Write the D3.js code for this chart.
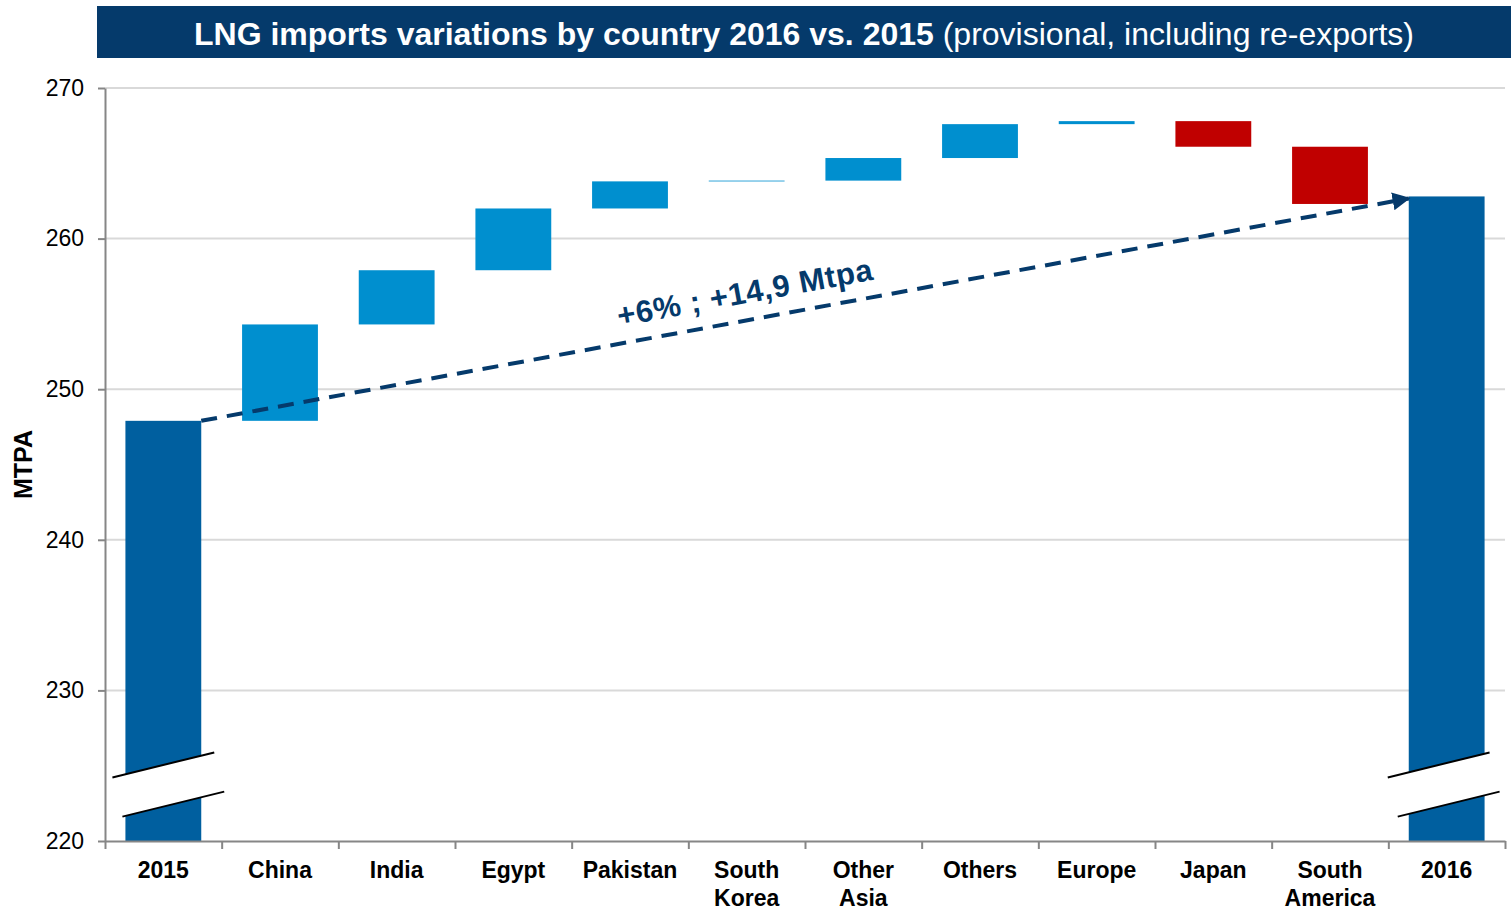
<!DOCTYPE html>
<html>
<head>
  <meta charset="utf-8">
  <title>LNG imports</title>
  <script type="text/javascript" src="https://cdn.jsdelivr.net/npm/d3@7"></script>
  <style>
    body { margin: 0; background: #fff; font-family: "Liberation Sans", Arial, sans-serif; }
    .axis path, .axis line { stroke: #868686; stroke-width: 2; }
    .axis text { font-size: 23px; fill: #000; font-family: "Liberation Sans", Arial, sans-serif; }
    .grid line { stroke: #d9d9d9; stroke-width: 2; }
    .xlab { font-size: 23px; font-weight: bold; fill: #000; }
  </style>
</head>
<body>
<script>

  // categories and values (Mtpa)
  var categories = ["2015", "China", "India", "Egypt", "Pakistan", "South Korea", "Other Asia",
                    "Others", "Europe", "Japan", "South America", "2016"];
  var labelLines = [["2015"], ["China"], ["India"], ["Egypt"], ["Pakistan"], ["South", "Korea"],
                    ["Other", "Asia"], ["Others"], ["Europe"], ["Japan"], ["South", "America"], ["2016"]];
  var totals = {"2015": 247.9, "2016": 262.8};
  var changes = [6.4, 3.6, 4.1, 1.8, 0.05, 1.5, 2.25, 0.2, -1.7, -3.8];
  var yTicks = [220, 230, 240, 250, 260, 270];
  var annotation = "+6% ; +14,9 Mtpa";
  var titleBold = "LNG imports variations by country 2016 vs. 2015";
  var titleRest = " (provisional, including re-exports)";

  var W = 1511, H = 910;
  var mLeft = 105, mRight = 1505, mTop = 88, mBottom = 841;

  var navy = "#053a6b", totalCol = "#005f9f", upCol = "#008fcf", downCol = "#c00000";

  // build waterfall rows
  var rows = [], run = totals["2015"];
  rows.push({cat: "2015", y0: 220, y1: run, type: "total"});
  changes.forEach(function (d, i) {
    rows.push({cat: categories[i + 1], y0: run, y1: run + d, type: d >= 0 ? "up" : "down"});
    run += d;
  });
  rows.push({cat: "2016", y0: 220, y1: totals["2016"], type: "total"});

  var svg = d3.select("body").append("svg")
      .attr("width", W)
      .attr("height", H);

  // title bar
  svg.append("rect")
      .attr("x", 97).attr("y", 6)
      .attr("width", W - 97).attr("height", 52)
      .attr("fill", navy);

  var title = svg.append("text")
      .attr("x", (97 + W) / 2)
      .attr("y", 45)
      .attr("text-anchor", "middle")
      .attr("fill", "#fff")
      .style("font-size", "32px");
  title.append("tspan").style("font-weight", "bold").text(titleBold);
  title.append("tspan").text(titleRest);

  var x = d3.scaleBand()
      .domain(categories)
      .range([mLeft, mRight])
      .paddingInner(0.35)
      .paddingOuter(0.175);

  var y = d3.scaleLinear()
      .domain([220, 270])
      .range([mBottom, mTop]);

  // gridlines
  svg.append("g")
      .attr("class", "grid")
      .selectAll("line")
      .data(yTicks.slice(1))
      .enter().append("line")
      .attr("x1", mLeft).attr("x2", mRight)
      .attr("y1", y).attr("y2", y);

  // bars
  var colour = {total: totalCol, up: upCol, down: downCol};
  svg.append("g")
      .selectAll("rect")
      .data(rows)
      .enter().append("rect")
      .attr("x", function (d) { return x(d.cat); })
      .attr("width", x.bandwidth())
      .attr("y", function (d) { return y(Math.max(d.y0, d.y1)); })
      .attr("height", function (d) { return Math.max(0.8, Math.abs(y(d.y0) - y(d.y1))); })
      .attr("fill", function (d) { return colour[d.type]; });

  // axis break marks on the two total bars
  var breakHi = 225.05, breakLo = 222.45, rise = 25;
  var breakShift = {"2015": 4, "2016": -4};
  ["2015", "2016"].forEach(function (c) {
    var x0 = x(c), x1 = x(c) + x.bandwidth(), s = breakShift[c];
    var yh = y(breakHi), yl = y(breakLo);
    var hi = [[x0 - 17 + s, yh + rise / 2], [x1 + 9 + s, yh - rise / 2]];
    var lo = [[x0 - 7 + s, yl + rise / 2], [x1 + 19 + s, yl - rise / 2]];
    var slope = (hi[1][1] - hi[0][1]) / (hi[1][0] - hi[0][0]);
    function at(p, xx) { return p[0][1] + (xx - p[0][0]) * slope; }
    svg.append("polygon")
        .attr("points", [[x0 - 1, at(hi, x0 - 1)], [x1 + 1, at(hi, x1 + 1)],
                         [x1 + 1, at(lo, x1 + 1)], [x0 - 1, at(lo, x0 - 1)]].join(" "))
        .attr("fill", "#fff");
    [hi, lo].forEach(function (p) {
      svg.append("line")
          .attr("x1", p[0][0]).attr("y1", p[0][1])
          .attr("x2", p[1][0]).attr("y2", p[1][1])
          .attr("stroke", "#000").attr("stroke-width", 2);
    });
  });

  // y axis
  svg.append("g")
      .attr("class", "axis")
      .attr("transform", "translate(" + mLeft + ",0)")
      .call(d3.axisLeft(y).tickValues(yTicks).tickSize(7).tickSizeOuter(0).tickPadding(14));

  svg.append("text")
      .attr("transform", "translate(32," + ((mTop + mBottom) / 2) + ") rotate(-90)")
      .attr("text-anchor", "middle")
      .style("font-size", "25px")
      .style("font-weight", "bold")
      .text("MTPA");

  // x axis with ticks at category boundaries
  var xb = d3.scaleLinear().domain([0, categories.length]).range([mLeft, mRight]);
  svg.append("g")
      .attr("class", "axis")
      .attr("transform", "translate(0," + mBottom + ")")
      .call(d3.axisBottom(xb).ticks(categories.length).tickSize(8).tickSizeOuter(0).tickFormat(""));

  var labs = svg.append("g").selectAll("text")
      .data(categories)
      .enter().append("text")
      .attr("class", "xlab")
      .attr("text-anchor", "middle")
      .attr("x", function (d) { return x(d) + x.bandwidth() / 2; })
      .attr("y", 878);
  labs.selectAll("tspan")
      .data(function (d, i) { return labelLines[i]; })
      .enter().append("tspan")
      .attr("x", function () { return d3.select(this.parentNode).attr("x"); })
      .attr("dy", function (d, i) { return i ? 28 : 0; })
      .text(function (d) { return d; });

  // dashed growth arrow from 2015 total to 2016 total
  svg.append("defs").append("marker")
      .attr("id", "arrow")
      .attr("viewBox", "0 0 10 10")
      .attr("refX", 9).attr("refY", 5)
      .attr("markerWidth", 4.5).attr("markerHeight", 4.5)
      .attr("orient", "auto")
      .append("path")
      .attr("d", "M0,0 L10,5 L0,10 z")
      .attr("fill", navy);

  var ax0 = x("2015") + x.bandwidth(), ay0 = y(totals["2015"]);
  var ax1 = x("2016"), ay1 = y(totals["2016"]) + 2;
  svg.append("line")
      .attr("x1", ax0).attr("y1", ay0)
      .attr("x2", ax1).attr("y2", ay1)
      .attr("stroke", navy)
      .attr("stroke-width", 4)
      .attr("stroke-dasharray", "16,10")
      .attr("marker-end", "url(#arrow)");

  var ang = Math.atan2(ay1 - ay0, ax1 - ax0) * 180 / Math.PI;
  var tx = 750, ty = ay0 + (tx - ax0) * (ay1 - ay0) / (ax1 - ax0);
  svg.append("text")
      .attr("transform", "translate(" + tx + "," + ty + ") rotate(" + ang + ")")
      .attr("y", -17)
      .attr("text-anchor", "middle")
      .attr("fill", navy)
      .style("font-size", "31px")
      .style("font-weight", "bold")
      .style("letter-spacing", "0.6px")
      .text(annotation);

</script>
</body>
</html>
